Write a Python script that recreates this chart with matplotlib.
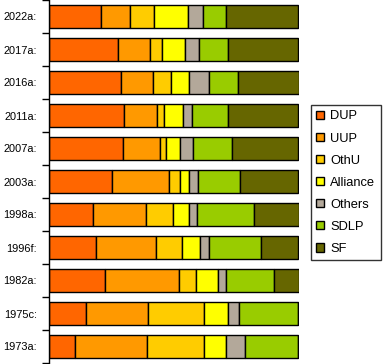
import matplotlib
matplotlib.use("Agg")
import matplotlib.pyplot as plt
from matplotlib.patches import Patch
import numpy as np

plt.rcParams['font.family'] = ['Liberation Sans', 'DejaVu Sans']

elections = ["2022a:", "2017a:", "2016a:", "2011a:", "2007a:", "2003a:",
             "1998a:", "1996f:", "1982a:", "1975c:", "1973a:"]
parties = ["DUP", "UUP", "OthU", "Alliance", "Others", "SDLP", "SF"]
colors = ["#FF6600", "#FF9900", "#FFCC00", "#FFFF00", "#B3A89A", "#99CC00", "#666600"]

DUP      = [21.1, 27.9, 29.0, 30.3, 29.9, 25.5, 17.9, 19.1, 22.7, 14.8, 10.7]
UUP      = [11.6, 12.8, 12.6, 13.2, 14.7, 22.8, 21.2, 24.0, 29.6, 25.1, 28.8]
OthU     = [9.6, 4.8, 7.2, 2.8, 2.5, 4.1, 10.8, 10.1, 6.8, 22.4, 22.8]
Alliance = [13.6, 9.2, 7.2, 7.6, 5.3, 3.6, 6.1, 7.5, 8.8, 9.6, 8.8]
Others   = [6.0, 5.3, 8.0, 3.6, 5.5, 3.6, 3.5, 3.3, 3.2, 4.4, 7.3]
SDLP     = [9.2, 11.9, 11.6, 14.4, 15.6, 17.1, 22.6, 21.1, 19.0, 23.6, 21.5]
SF       = [28.8, 28.0, 24.4, 28.0, 26.4, 23.2, 17.9, 14.8, 9.9, 0.0, 0.0]

series = [DUP, UUP, OthU, Alliance, Others, SDLP, SF]

W, H = 385, 364
fig = plt.figure(figsize=(W / 100, H / 100), dpi=100)
ax = fig.add_axes([48.7 / W, 1 / H, (298.5 - 48.7) / W, (H - 1) / H])

y = np.arange(len(elections))
left = np.zeros(len(elections))
for name, vals, col in zip(parties, series, colors):
    vals = np.array(vals)
    ax.barh(y, vals, left=left, height=0.667, color=col, edgecolor="black",
            linewidth=1.0, label=name)
    left += vals

ax.set_xlim(0, left.max())
ax.set_ylim(len(elections) - 0.5, -0.5)
ax.set_yticks(y)
ax.set_yticklabels(elections, fontsize=7.9)
ax.tick_params(axis='y', length=0, pad=8.5)
ax.set_yticks(np.arange(len(elections) + 1) - 0.5, minor=True)
ax.tick_params(axis='y', which='minor', length=5, width=1, color='black')
ax.set_xticks([])
for s in ["top", "right", "bottom"]:
    ax.spines[s].set_visible(False)
ax.spines["left"].set_linewidth(1.0)

handles = [Patch(facecolor=c, edgecolor="black", linewidth=1.0) for c in colors]
leg = fig.legend(handles, parties, loc="upper left",
                 bbox_to_anchor=(310.7 / W, 1 - 105 / H),
                 borderaxespad=0, fontsize=9.3, frameon=True, fancybox=False,
                 handlelength=0.62, handleheight=0.62, handletextpad=0.47,
                 labelspacing=0.78, borderpad=0.42)
leg.get_frame().set_edgecolor("black")
leg.get_frame().set_linewidth(1.0)

fig.savefig("out.png", dpi=100)
